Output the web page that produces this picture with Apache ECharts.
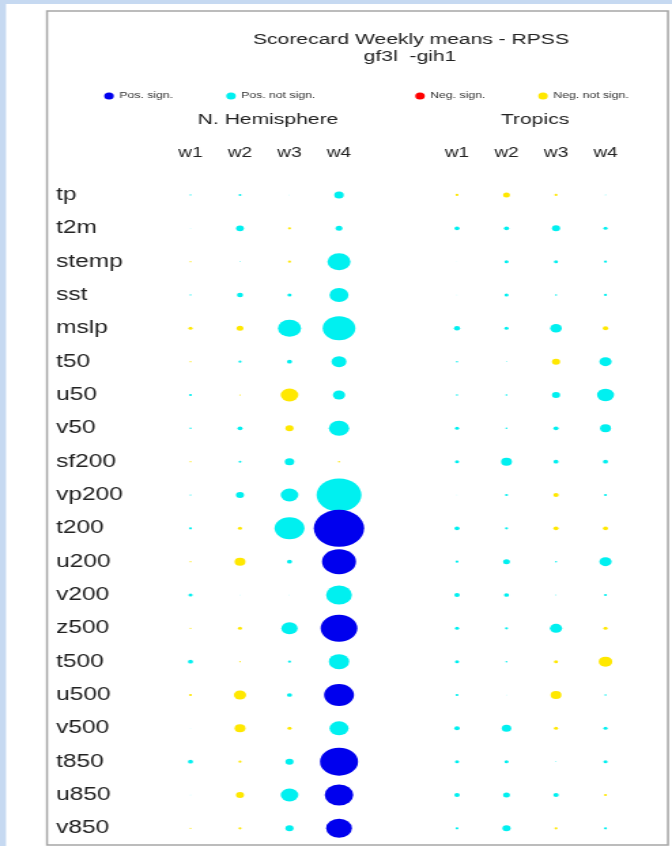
<!DOCTYPE html>
<html>
<head>
<meta charset="utf-8">
<script src="https://cdn.jsdelivr.net/npm/echarts@6/dist/echarts.min.js"></script>
<style>
html,body{margin:0;padding:0;background:#c6d9f1;overflow:hidden;width:672px;height:846px;}
#chart{width:494px;height:846px;transform:scaleX(1.360324);transform-origin:0 0;}
</style>
</head>
<body>
<div id="chart"></div>
<script>
// ---- data ----
const variables = ['tp','t2m','stemp','sst','mslp','t50','u50','v50','sf200','vp200','t200','u200','v200','z500','t500','u500','v500','t850','u850','v850'];
const weeks = ['w1','w2','w3','w4'];
const legendNames = ['Pos. sign.','Pos. not sign.','Neg. sign.','Neg. not sign.'];
const regionNames = ['N. Hemisphere','Tropics'];

// signed score differences (positive = improvement, negative = degradation)
const nhScores = [
  [ 0.012,  0.020,  0.004,  0.070], // tp
  [ 0.004,  0.058, -0.022,  0.050], // t2m
  [-0.012,  0.008, -0.022,  0.170], // stemp
  [ 0.012,  0.045,  0.030,  0.140], // sst
  [-0.030, -0.050,  0.170,  0.240], // mslp
  [-0.012,  0.022,  0.037,  0.110], // t50
  [ 0.022, -0.012, -0.130,  0.090], // u50
  [ 0.015,  0.037, -0.060,  0.150], // v50
  [-0.012,  0.020,  0.070, -0.015], // sf200
  [ 0.012,  0.060,  0.130,  0.330], // vp200
  [ 0.022, -0.030,  0.220,  0.370], // t200
  [-0.012, -0.080,  0.037,  0.250], // u200
  [ 0.030,  0.004,  0.004,  0.190], // v200
  [-0.012, -0.030,  0.120,  0.270], // z500
  [ 0.037, -0.012,  0.022,  0.150], // t500
  [-0.022, -0.090,  0.037,  0.220], // u500
  [ 0.004, -0.080, -0.030,  0.140], // v500
  [ 0.037, -0.022,  0.060,  0.280], // t850
  [ 0.004, -0.060,  0.130,  0.210], // u850
  [-0.012, -0.022,  0.060,  0.190]  // v850
];
const nhSignificant = [
  [0,0,0,0],[0,0,0,0],[0,0,0,0],[0,0,0,0],[0,0,0,0],
  [0,0,0,0],[0,0,0,0],[0,0,0,0],[0,0,0,0],[0,0,0,0],
  [0,0,0,1],[0,0,0,1],[0,0,0,0],[0,0,0,1],[0,0,0,0],
  [0,0,0,1],[0,0,0,0],[0,0,0,1],[0,0,0,1],[0,0,0,1]
];
const trScores = [
  [-0.022, -0.050, -0.022,  0.008], // tp
  [ 0.037,  0.037,  0.060,  0.030], // t2m
  [ 0.004,  0.030,  0.030,  0.022], // stemp
  [ 0.004,  0.030,  0.015,  0.022], // sst
  [ 0.045,  0.030,  0.085, -0.040], // mslp
  [ 0.015,  0.008, -0.060,  0.090], // t50
  [ 0.015,  0.015,  0.060,  0.125], // u50
  [ 0.030,  0.015,  0.037,  0.080], // v50
  [ 0.030,  0.080,  0.037,  0.037], // sf200
  [ 0.004,  0.022, -0.040,  0.022], // vp200
  [ 0.037,  0.022, -0.037, -0.037], // t200
  [ 0.022,  0.050,  0.015,  0.090], // u200
  [ 0.040,  0.037,  0.008,  0.022], // v200
  [ 0.030,  0.022,  0.090, -0.030], // z500
  [ 0.030,  0.015, -0.030, -0.100], // t500
  [ 0.022,  0.004, -0.080,  0.015], // u500
  [ 0.040,  0.070, -0.030,  0.030], // v500
  [ 0.030,  0.030,  0.008,  0.030], // t850
  [ 0.040,  0.050,  0.040, -0.022], // u850
  [ 0.022,  0.060, -0.022,  0.022]  // v850
];
const trSignificant = variables.map(() => [0,0,0,0]);

// ---- styling ----
const SX = 672 / 494;           // horizontal stretch of the picture
const FONT = '"Liberation Sans", Arial, Helvetica, sans-serif';
const colors = {
  'Pos. sign.': '#0000ee',
  'Pos. not sign.': '#00f0f0',
  'Neg. sign.': '#ff0000',
  'Neg. not sign.': '#ffe800'
};
const SIZE_SCALE = 100;
const px = x => x / SX;          // picture x -> chart x

function classify(v, s) {
  if (v >= 0) return s ? 'Pos. sign.' : 'Pos. not sign.';
  return s ? 'Neg. sign.' : 'Neg. not sign.';
}

const regions = [
  {scores: nhScores, sig: nhSignificant},
  {scores: trScores, sig: trSignificant}
];

const drawOrder = ['Pos. not sign.', 'Neg. not sign.', 'Pos. sign.', 'Neg. sign.'];
const series = [];
regions.forEach((reg, ri) => {
  drawOrder.forEach(name => {
    const data = [];
    reg.scores.forEach((row, yi) => {
      row.forEach((v, xi) => {
        if (classify(v, reg.sig[yi][xi]) === name) data.push([xi, yi, v]);
      });
    });
    series.push({
      name: name,
      type: 'scatter',
      xAxisIndex: ri,
      yAxisIndex: ri,
      symbol: 'circle',
      symbolSize: val => Math.abs(val[2]) * SIZE_SCALE,
      itemStyle: {color: colors[name], opacity: 1},
      emphasis: {disabled: true},
      data: data
    });
  });
});

const colStep = px(49.5);
const gridTop = 178.3, gridHeight = 666.7;
const grids = [
  {left: px(190.5) - colStep / 2, top: gridTop, width: colStep * 4, height: gridHeight},
  {left: px(457) - colStep / 2, top: gridTop, width: colStep * 4, height: gridHeight}
];

const xAxes = grids.map((g, i) => ({
  type: 'category', gridIndex: i, data: weeks, position: 'top',
  axisLine: {show: false}, axisTick: {show: false}, splitLine: {show: false},
  axisLabel: {fontSize: 14, color: '#222', fontFamily: FONT, margin: 25.3, verticalAlign: 'middle'}
}));
const yAxes = grids.map((g, i) => ({
  type: 'category', gridIndex: i, data: variables, inverse: true,
  axisLine: {show: false}, axisTick: {show: false}, splitLine: {show: false},
  axisLabel: {show: i === 0, fontSize: 18, color: '#222', fontFamily: FONT, align: 'left',
              margin: grids[0].left - px(56)}
}));

const legendDots = [109, 231, 420, 543];
const legends = legendNames.map((n, i) => ({
  data: [n], left: px(legendDots[i]) - 3.5, top: 91.5, padding: 0,
  icon: 'circle', itemWidth: 7, itemHeight: 7, itemGap: 0, selectedMode: false,
  textStyle: {fontSize: 9, color: '#333', fontFamily: FONT, padding: [0, 0, 0, -1]}
}));

const option = {
  animation: false,
  backgroundColor: 'transparent',
  graphic: [
    {type: 'rect', z: -10, silent: true, shape: {x: px(6), y: 4, width: 494, height: 846}, style: {fill: '#ffffff'}},
    {type: 'rect', z: -9, silent: true, shape: {x: px(47), y: 11, width: px(668) - px(47), height: 834},
     style: {fill: 'none', stroke: '#a6a6a6', lineWidth: 1.5}},
    {type: 'text', x: px(411), y: 40, style: {text: 'Scorecard Weekly means - RPSS', align: 'center', verticalAlign: 'middle', font: '15.5px ' + FONT, fill: '#222'}},
    {type: 'text', x: px(410), y: 57, style: {text: 'gf3l  -gih1', align: 'center', verticalAlign: 'middle', font: '15.5px ' + FONT, fill: '#222'}},
    {type: 'text', x: px(268), y: 120, style: {text: regionNames[0], align: 'center', verticalAlign: 'middle', font: '15.5px ' + FONT, fill: '#222'}},
    {type: 'text', x: px(535), y: 120, style: {text: regionNames[1], align: 'center', verticalAlign: 'middle', font: '15.5px ' + FONT, fill: '#222'}}
  ],
  legend: legends,
  grid: grids,
  xAxis: xAxes,
  yAxis: yAxes,
  series: series
};

const chart = echarts.init(document.getElementById('chart'), null, {renderer: 'canvas'});
chart.setOption(option);
</script>
</body>
</html>
